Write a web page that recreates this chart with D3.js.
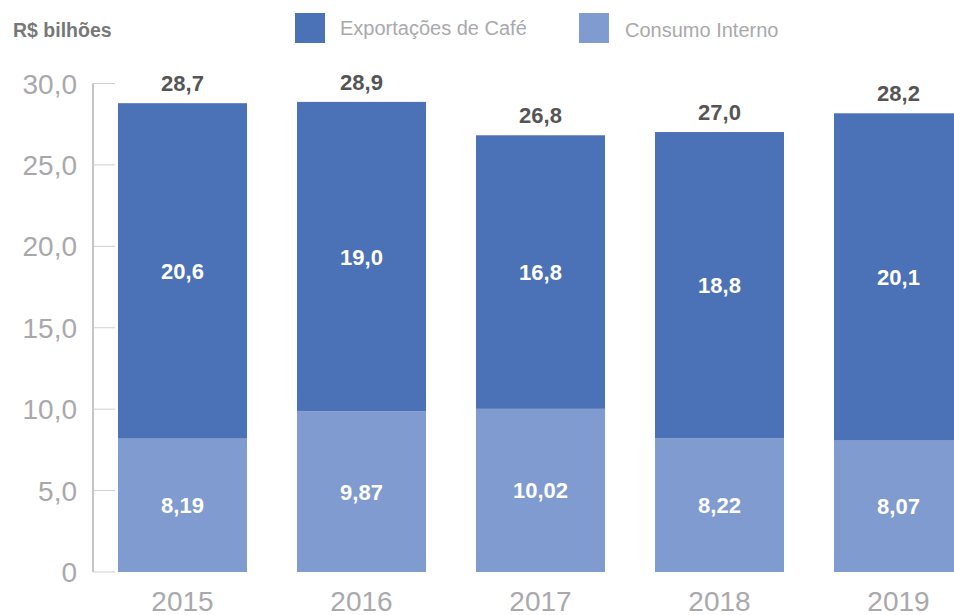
<!DOCTYPE html>
<html>
<head>
<meta charset="utf-8">
<script src="https://cdn.jsdelivr.net/npm/d3@7"></script>
<style>
  body { margin: 0; background: #fff; }
  svg { display: block; font-family: "Liberation Sans", Arial, Helvetica, sans-serif; }
</style>
</head>
<body>
<svg></svg>
<script>
// données du graphique
const anos = ['2015', '2016', '2017', '2018', '2019'];
const consumoInterno = [8.19, 9.87, 10.02, 8.22, 8.07];
const exportacoes = [20.6, 19.0, 16.8, 18.8, 20.1];
const totais = [28.7, 28.9, 26.8, 27.0, 28.2];
const ticksY = [0, 5, 10, 15, 20, 25, 30];
const series = ['Exportações de Café', 'Consumo Interno'];

const WIDTH = 954;
const HEIGHT = 615;
const corExport = '#4b71b7';
const corConsumo = '#7f9bd0';

const loc = d3.formatLocale({ decimal: ',', thousands: '.', grouping: [3], currency: ['R$', ''] });
const f1 = loc.format('.1f');
const f2 = loc.format('.2f');

const svg = d3.select('svg')
    .attr('width', WIDTH)
    .attr('height', HEIGHT);

// échelles
const x = d3.scaleBand()
    .domain(anos)
    .range([93, 988])
    .paddingInner(0.2793)
    .paddingOuter(0.1397);

const y = d3.scaleLinear()
    .domain([0, 30])
    .range([572, 83.5]);

// empilement
const tabela = anos.map((a, i) => ({ ano: a, consumo: consumoInterno[i], exportacoes: exportacoes[i] }));
const stack = d3.stack().keys(['consumo', 'exportacoes']);
const camadas = stack(tabela);
const cores = { consumo: corConsumo, exportacoes: corExport };

// axe y
const eixo = svg.append('g');
eixo.append('line')
    .attr('x1', 93).attr('x2', 93)
    .attr('y1', y(30)).attr('y2', y(0))
    .attr('stroke', '#8c8c8c')
    .attr('stroke-width', 1);
eixo.selectAll('line.tick')
    .data(ticksY)
    .enter()
    .append('line')
    .attr('class', 'tick')
    .attr('x1', 93).attr('x2', 115)
    .attr('y1', d => y(d)).attr('y2', d => y(d))
    .attr('stroke', '#cfcfcf')
    .attr('stroke-width', 1);
eixo.selectAll('text')
    .data(ticksY)
    .enter()
    .append('text')
    .attr('x', 77)
    .attr('y', d => y(d) + 10)
    .attr('text-anchor', 'end')
    .attr('fill', '#a9a9ac')
    .style('font-size', '28px')
    .text(d => d === 0 ? '0' : f1(d));

// barres
svg.append('g')
    .selectAll('g')
    .data(camadas)
    .enter()
    .append('g')
    .attr('fill', d => cores[d.key])
    .selectAll('rect')
    .data(d => d)
    .enter()
    .append('rect')
    .attr('x', d => x(d.data.ano))
    .attr('y', d => y(d[1]))
    .attr('width', x.bandwidth())
    .attr('height', d => y(d[0]) - y(d[1]));

// étiquettes internes
camadas.forEach(camada => {
    svg.append('g')
        .selectAll('text')
        .data(camada)
        .enter()
        .append('text')
        .attr('x', d => x(d.data.ano) + x.bandwidth() / 2)
        .attr('y', d => (y(d[0]) + y(d[1])) / 2)
        .attr('dy', '0.36em')
        .attr('text-anchor', 'middle')
        .attr('fill', '#ffffff')
        .style('font-size', '22px')
        .style('font-weight', 'bold')
        .text(d => camada.key === 'consumo' ? f2(d.data.consumo) : f1(d.data.exportacoes));
});

// totaux
svg.append('g')
    .selectAll('text')
    .data(tabela)
    .enter()
    .append('text')
    .attr('x', d => x(d.ano) + x.bandwidth() / 2)
    .attr('y', d => y(d.consumo + d.exportacoes) - 12)
    .attr('text-anchor', 'middle')
    .attr('fill', '#555555')
    .style('font-size', '22px')
    .style('font-weight', 'bold')
    .text((d, i) => f1(totais[i]));

// années
svg.append('g')
    .selectAll('text')
    .data(anos)
    .enter()
    .append('text')
    .attr('x', d => x(d) + x.bandwidth() / 2)
    .attr('y', 611)
    .attr('text-anchor', 'middle')
    .attr('fill', '#a9a9ac')
    .style('font-size', '28px')
    .text(d => d);

// unité
svg.append('text')
    .attr('x', 13)
    .attr('y', 36.5)
    .attr('fill', '#777777')
    .style('font-size', '19.5px')
    .style('font-weight', 'bold')
    .text('R$ bilhões');

// légende
const legenda = [
    { nome: series[0], cor: corExport, xq: 295, xt: 340, yt: 35 },
    { nome: series[1], cor: corConsumo, xq: 579, xt: 625, yt: 37 }
];
const leg = svg.append('g').selectAll('g').data(legenda).enter().append('g');
leg.append('rect')
    .attr('x', d => d.xq)
    .attr('y', 13)
    .attr('width', 30)
    .attr('height', 30)
    .attr('fill', d => d.cor);
leg.append('text')
    .attr('x', d => d.xt)
    .attr('y', d => d.yt)
    .attr('fill', '#a9a9ac')
    .style('font-size', '20px')
    .text(d => d.nome);
</script>
</body>
</html>
